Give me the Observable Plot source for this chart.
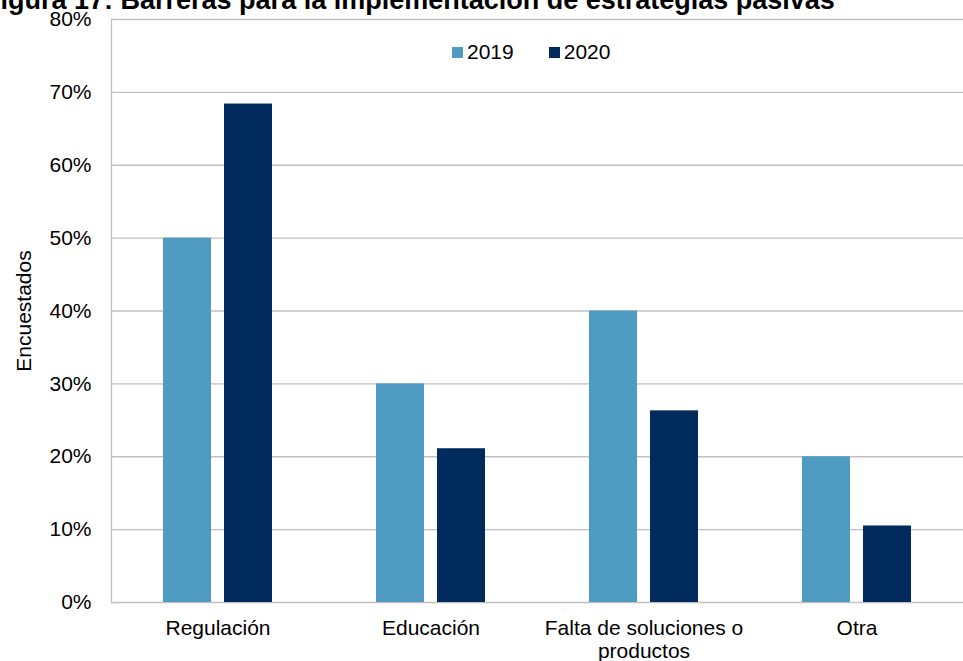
<!DOCTYPE html>
<html><head><meta charset="utf-8">
<script src="https://cdn.jsdelivr.net/npm/d3@7"></script>
<script src="https://cdn.jsdelivr.net/npm/@observablehq/plot@0.6"></script>
<style>
body{margin:0;background:#fff;overflow:hidden;font-family:"Liberation Sans",Arial,sans-serif}
#wrap{position:relative;width:963px;height:661px;overflow:hidden}
#title{position:absolute;left:-16px;top:-13px;font:bold 27px/27px "Liberation Sans",Arial,sans-serif;white-space:nowrap;color:#000;z-index:2}
#legend{position:absolute;top:40px;left:452px;display:flex;align-items:center;font:21px "Liberation Sans",Arial,sans-serif;color:#000;z-index:2}
#legend .it{display:flex;align-items:center;margin-right:35px}
#legend .sw{width:11px;height:11px;margin-right:4px}
</style></head>
<body><div id="wrap">
<div id="title">Figura 17: Barreras para la implementación de estrategias pasivas</div>
<div id="legend"></div>
<div id="chart"></div>
</div>
<script>
const categories = ["Regulación", "Educación", "Falta de soluciones o productos", "Otra"];
const categoryLabels = ["Regulación", "Educación", "Falta de soluciones o\nproductos", "Otra"];
const series = ["2019", "2020"];
const values2019 = [50, 30, 40, 20];
const values2020 = [68.4, 21.1, 26.3, 10.5];
const yTicks = [0, 10, 20, 30, 40, 50, 60, 70, 80];
const colors = ["#4f9bc1", "#002b5c"];

const rows = [];
categories.forEach((c, i) => {
  rows.push({cat: c, year: series[0], value: values2019[i]});
  rows.push({cat: c, year: series[1], value: values2020[i]});
});

const legend = document.getElementById("legend");
series.forEach((s, i) => {
  const it = document.createElement("div"); it.className = "it";
  const sw = document.createElement("span"); sw.className = "sw"; sw.style.background = colors[i];
  const t = document.createElement("span"); t.textContent = s;
  it.appendChild(sw); it.appendChild(t); legend.appendChild(it);
});

const chart = Plot.plot({
  width: 963, height: 661,
  marginTop: 19, marginBottom: 59, marginLeft: 110, marginRight: 0,
  style: {fontFamily: "Liberation Sans, Arial, sans-serif", fontSize: "21px", color: "#000", background: "#fff"},
  fx: {domain: categories, paddingInner: 0, paddingOuter: 0, label: null},
  x: {domain: series, paddingInner: 0.213, paddingOuter: 0.852, axis: null},
  y: {domain: [0, 80]},
  color: {domain: series, range: colors},
  marks: [
    Plot.gridY(yTicks, {stroke: "#c0c0c0", strokeOpacity: 1, strokeWidth: 1.3}),
    Plot.frame({anchor: "left", stroke: "#c0c0c0", strokeOpacity: 1, strokeWidth: 1.3, facet: "super"}),
    Plot.barY(rows, {fx: "cat", x: "year", y: "value", fill: "year"}),
    Plot.axisY(yTicks, {tickSize: 0, tickPadding: 20, tickFormat: d => d + "%", label: "Encuestados", labelAnchor: "center", labelOffset: 95, labelArrow: "none", fontSize: 21}),
    Plot.axisFx({anchor: "bottom", tickSize: 0, tickPadding: 15, tickFormat: d => categoryLabels[categories.indexOf(d)], label: null, lineHeight: 1.14, fontSize: 21})
  ]
});
document.getElementById("chart").appendChild(chart);
</script>
</body></html>
